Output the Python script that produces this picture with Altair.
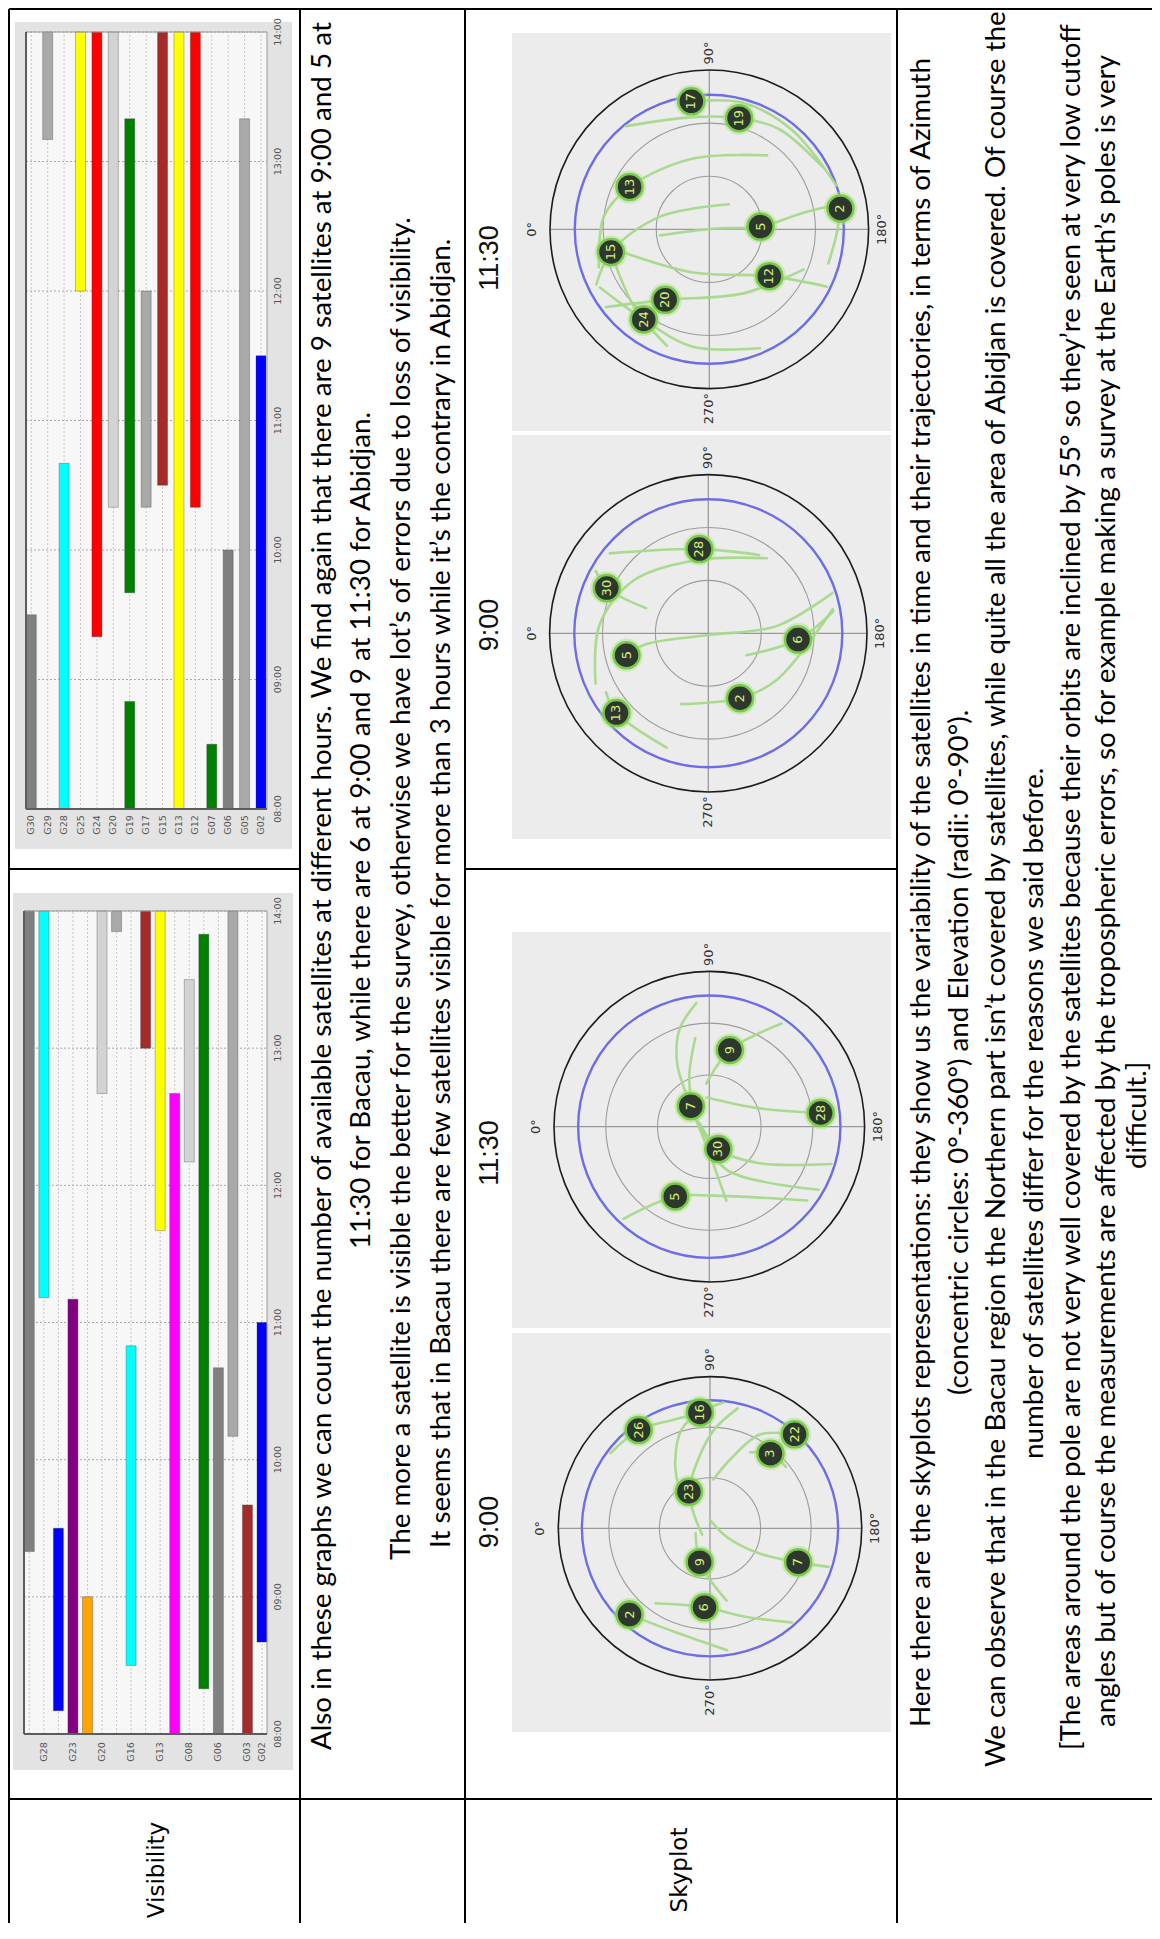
import math
import altair as alt
import pandas as pd

# =============================== DATA ===============================
# --- Visibility (time windows, decimal hours) : Bacau
bacau_sats = ["G30", "G28", "G26", "G23", "G22", "G20", "G17", "G16", "G15",
              "G13", "G09", "G08", "G07", "G06", "G05", "G03", "G02"]
bacau_tick_labels = ["G28", "G23", "G20", "G16", "G13", "G08", "G06", "G03", "G02"]
bacau_bar_sat = ["G30", "G28", "G26", "G23", "G22", "G20", "G17", "G16", "G15",
                 "G13", "G09", "G08", "G07", "G06", "G05", "G03", "G02"]
bacau_bar_start = [9.33, 11.18, 8.17, 8.0, 8.0, 12.67, 13.85, 8.5, 13.0,
                   11.67, 8.0, 12.17, 8.33, 8.0, 10.17, 8.0, 8.67]
bacau_bar_end = [14.0, 14.0, 9.5, 11.17, 9.0, 14.0, 14.0, 10.83, 14.0,
                 14.0, 12.67, 13.5, 13.83, 10.67, 14.0, 9.67, 11.0]

# --- Visibility : Abidjan
abidjan_sats = ["G30", "G29", "G28", "G25", "G24", "G20", "G19", "G17", "G15",
                "G13", "G12", "G07", "G06", "G05", "G02"]
abidjan_tick_labels = abidjan_sats
abidjan_bar_sat = ["G30", "G29", "G28", "G25", "G24", "G20", "G19", "G19", "G17",
                   "G15", "G13", "G12", "G07", "G06", "G05", "G02"]
abidjan_bar_start = [8.0, 13.17, 8.0, 12.0, 9.33, 10.33, 9.67, 8.0, 10.33,
                     10.5, 8.0, 10.33, 8.0, 8.0, 8.0, 8.0]
abidjan_bar_end = [9.5, 14.0, 10.67, 14.0, 14.0, 14.0, 13.33, 8.83, 12.0,
                   14.0, 14.0, 14.0, 8.5, 10.0, 13.33, 11.5]

hour_values = [8, 9, 10, 11, 12, 13, 14]
hour_labels = ["08:00", "09:00", "10:00", "11:00", "12:00", "13:00", "14:00"]

# --- Skyplots : satellites (PRN, azimuth deg, elevation deg)
bacau_0900_prn = [26, 16, 22, 3, 23, 9, 7, 6, 2]
bacau_0900_az = [54, 85, 132, 129, 60, 287, 201, 274, 313]
bacau_0900_el = [18, 21, 15, 33, 65, 69, 34, 43, 20]
bacau_0900_tracks = [
    [(37, 16), (54, 18), (71, 22), (82, 22)],
    [(96, 15), (85, 21), (74, 29), (62, 46), (49, 63)],
    [(103, 17), (92, 32), (78, 51), (60, 65), (42, 77), (321, 84)],
    [(132, 15), (118, 27), (106, 48), (94, 61)],
    [(118, 39), (129, 33), (141, 32)],
    [(90, 85), (207, 79), (207, 57), (201, 34), (198, 16)],
    [(342, 81), (287, 69), (267, 57), (257, 46)],
    [(306, 35), (274, 43), (249, 34), (229, 16)],
    [(313, 20), (288, 25), (262, 17)],
]

bacau_1130_prn = [9, 7, 28, 30, 5]
bacau_1130_az = [105, 48, 173, 248, 296]
bacau_1130_el = [44, 74, 25, 76, 45]
bacau_1130_tracks = [
    [(125, 17), (105, 44), (86, 65)],
    [(84, 18), (73, 31), (63, 49), (48, 74), (272, 76), (257, 46)],
    [(81, 38), (68, 59), (46, 77), (293, 84), (248, 63), (210, 17)],
    [(85, 73), (160, 59), (173, 25)],
    [(20, 84), (248, 76), (216, 54), (197, 16)],
    [(313, 17), (296, 45), (267, 50), (217, 19)],
]

abidjan_0900_prn = [28, 30, 5, 13, 2, 6]
abidjan_0900_az = [84, 24, 345, 319, 244, 184]
abidjan_0900_el = [42, 27, 42, 21, 49, 39]
abidjan_0900_tracks = [
    [(39, 18), (84, 42), (123, 37)],
    [(336, 20), (4, 28), (35, 38), (83, 48), (128, 36)],
    [(29, 17), (24, 27), (22, 52)],
    [(345, 42), (350, 54), (270, 89), (174, 51), (162, 16)],
    [(330, 23), (319, 21), (290, 21)],
    [(291, 47), (244, 49), (214, 43), (169, 18)],
    [(210, 65), (184, 39), (170, 18)],
]

abidjan_1130_prn = [17, 19, 13, 2, 5, 15, 12, 20, 24]
abidjan_1130_az = [82, 105, 28, 171, 177, 347, 218, 302, 306]
abidjan_1130_el = [17, 25, 39, 15, 61, 33, 47, 43, 27]
abidjan_1130_tracks = [
    [(51, 15), (82, 26), (105, 25), (125, 21), (151, 17)],
    [(82, 17), (105, 16), (130, 17), (161, 14)],
    [(128, 37), (77, 49), (28, 39), (7, 30), (341, 24)],
    [(128, 72), (14, 61), (347, 33), (334, 19)],
    [(353, 62), (170, 88), (177, 61), (170, 36), (169, 15)],
    [(171, 15), (182, 18), (196, 20)],
    [(344, 41), (290, 64), (218, 47), (206, 16)],
    [(323, 17), (302, 43), (242, 49), (203, 32)],
    [(332, 20), (306, 27), (278, 23), (247, 17)],
    [(347, 33), (314, 29), (290, 20)],
]

azimuth_labels = ["0°", "90°", "180°", "270°"]
azimuth_values = [0, 90, 180, 270]
elevation_rings = [30, 60]
cutoff_elevation = 14

# --- Texts
row_labels = ["Visibility", "Skyplot"]
row2_lines = [
    "Also in these graphs we can count the number of available satellites at different hours. We find again that there are 9 satellites at 9:00 and 5 at",
    "11:30 for Bacau, while there are 6 at 9:00 and 9 at 11:30 for Abidjan.",
    "The more a satellite is visible the better for the survey, otherwise we have lot’s of errors due to loss of visibility.",
    "It seems that in Bacau there are few satellites visible for more than 3 hours while it’s the contrary in Abidjan.",
]
row4_lines = [
    "Here there are the skyplots representations: they show us the variability of the satellites in time and their trajectories, in terms of Azimuth",
    "(concentric circles: 0°-360°) and Elevation (radii: 0°-90°).",
    "We can observe that in the Bacau region the Northern part isn’t covered by satellites, while quite all the area of Abidjan is covered. Of course the",
    "number of satellites differ for the reasons we said before.",
    "[The areas around the pole are not very well covered by the satellites because their orbits are inclined by 55° so they’re seen at very low cutoff",
    "angles but of course the measurements are affected by the tropospheric errors, so for example making a survey at the Earth’s poles is very",
    "difficult.]",
]

# =========================== STYLE / LAYOUT ===========================
OFF = 8                     # page margin
W, H = 1144, 1915
BODY_FONT = "Lato"
BODY_SIZE = 27.8

SAT_COLORS = {
    "G02": "#0000ff", "G03": "#a52a2a", "G05": "#a9a9a9", "G06": "#808080",
    "G07": "#008000", "G08": "#d3d3d3", "G09": "#ff00ff", "G12": "#ff0000",
    "G13": "#ffff00", "G15": "#a52a2a", "G16": "#00ffff", "G17": "#a9a9a9",
    "G19": "#008000", "G20": "#d3d3d3", "G22": "#ffa500", "G23": "#800080",
    "G24": "#ff0000", "G25": "#ffff00", "G26": "#0000ff", "G28": "#00ffff",
    "G29": "#a9a9a9", "G30": "#808080",
}
BAR_W = 10

BACAU_G = dict(c_first=29.3, c_last=262.0, y8=1734, y14=911,
               panel=(13, 893, 293, 1770), plot=(24, 911, 267, 1734),
               lab_y=1752, time_x=278)
ABIDJAN_G = dict(c_first=31.3, c_last=261.0, y8=809, y14=32,
                 panel=(15, 22, 292, 849), plot=(26, 32, 267, 809),
                 lab_y=825, time_x=278)

SKY = [
    dict(cx=710.0, cy=1528.3, R=151.7, box=(512, 1333, 891, 1732), title="9:00", ty=1522,
         prn=bacau_0900_prn, az=bacau_0900_az, el=bacau_0900_el, tracks=bacau_0900_tracks),
    dict(cx=709.3, cy=1126.7, R=155.3, box=(512, 932, 891, 1328), title="11:30", ty=1153,
         prn=bacau_1130_prn, az=bacau_1130_az, el=bacau_1130_el, tracks=bacau_1130_tracks),
    dict(cx=708.3, cy=633.3, R=158.7, box=(512, 435, 891, 839), title="9:00", ty=625,
         prn=abidjan_0900_prn, az=abidjan_0900_az, el=abidjan_0900_el, tracks=abidjan_0900_tracks),
    dict(cx=709.3, cy=229.3, R=159.3, box=(512, 33, 891, 431), title="11:30", ty=258,
         prn=abidjan_1130_prn, az=abidjan_1130_az, el=abidjan_1130_el, tracks=abidjan_1130_tracks),
]
SKY_TITLE_X = 490
AZ_LABEL_GAP = [18, 17, 13, 20]   # px outside the horizon circle

ROW2_X = [323, 362, 402, 442]
ROW2_START = [1750, 1249, 1560, 1548]
ROW4_X = [922, 960, 997, 1035, 1072, 1107, 1138]
ROW4_START = [1727, 1395, 1767, 1459, 1750, 1727, 1169]
HEADER_POS = [(157, 1870), (680, 1870)]

TABLE_LINES = [
    (9, 9, 1160, 9), (9, 9, 9, 1939),
    (300, 9, 300, 1939), (465, 9, 465, 1939), (897, 9, 897, 1939),
    (9, 1799, 1160, 1799),
    (9, 869, 300, 869), (465, 869, 897, 869),
]


# ============================== HELPERS ==============================
def rules_layer(rows, color, width, dash=None):
    df = pd.DataFrame(rows, columns=["x", "y", "x2", "y2"]) - OFF
    kw = dict(color=color, strokeWidth=width)
    if dash:
        kw["strokeDash"] = dash
    return alt.Chart(df).mark_rule(**kw).encode(
        x=alt.X("x:Q", scale=None, axis=None), y=alt.Y("y:Q", scale=None, axis=None),
        x2="x2:Q", y2="y2:Q")


def rects_layer(rows, fill):
    df = pd.DataFrame(rows, columns=["x", "y", "x2", "y2"]) - OFF
    return alt.Chart(df).mark_rect(color=fill).encode(
        x=alt.X("x:Q", scale=None, axis=None), y=alt.Y("y:Q", scale=None, axis=None),
        x2="x2:Q", y2="y2:Q")


def text_layer(texts, xs, ys, align, font, size, color="black"):
    df = pd.DataFrame({"t": texts, "x": [v - OFF for v in xs], "y": [v - OFF for v in ys]})
    return alt.Chart(df).mark_text(angle=270, align=align, baseline="middle",
                                   font=font, fontSize=size, color=color).encode(
        x=alt.X("x:Q", scale=None, axis=None), y=alt.Y("y:Q", scale=None, axis=None),
        text="t:N")


def gantt(sats, tick_labels, bar_sat, bar_start, bar_end, g):
    n = len(sats)
    step = (g["c_last"] - g["c_first"]) / (n - 1)
    half = BAR_W / 2 / step
    xs = alt.Scale(domain=[0, n - 1], range=[g["c_first"] - OFF, g["c_last"] - OFF],
                   nice=False, zero=False)
    ys = alt.Scale(domain=[8, 14], range=[g["y8"] - OFF, g["y14"] - OFF],
                   nice=False, zero=False)
    l, t, r, b = g["plot"]
    layers = [rects_layer([g["panel"]], "#e3e3e3"), rects_layer([g["plot"]], "#f7f7f7")]

    cats = pd.DataFrame({"i": list(range(n)), "t0": 8, "t1": 14})
    layers.append(alt.Chart(cats).mark_rule(color="#c6c6c6", strokeWidth=1, strokeDash=[2, 2]).encode(
        x=alt.X("i:Q", scale=xs, axis=None), y=alt.Y("t0:Q", scale=ys, axis=None), y2="t1:Q"))

    hrs = pd.DataFrame({"h": hour_values, "label": hour_labels})
    layers.append(alt.Chart(hrs).mark_rule(color="#ababab", strokeWidth=1, strokeDash=[2, 2]).encode(
        y=alt.Y("h:Q", scale=ys, axis=None), x=alt.value(l - OFF), x2=alt.value(r - OFF)))

    bars = pd.DataFrame({"sat": bar_sat, "start": bar_start, "end": bar_end})
    bars["i"] = [sats.index(s) for s in bar_sat]
    layers.append(alt.Chart(bars).transform_calculate(
        lo=f"datum.i - {half}", hi=f"datum.i + {half}"
    ).mark_rect(stroke="#333333", strokeWidth=0.7, strokeOpacity=0.45).encode(
        x=alt.X("lo:Q", scale=xs, axis=None), x2="hi:Q",
        y=alt.Y("start:Q", scale=ys, axis=None), y2="end:Q",
        color=alt.Color("sat:N", scale=alt.Scale(domain=list(SAT_COLORS.keys()),
                                                 range=list(SAT_COLORS.values())), legend=None)))

    layers.append(rules_layer([(l, t, r, t), (r, t, r, b)], "#9a9a9a", 1))
    layers.append(rules_layer([(l, t, l, b), (l, b, r, b)], "#5c5c5c", 2))

    lab = pd.DataFrame({"sat": tick_labels})
    lab["i"] = [sats.index(s) for s in tick_labels]
    layers.append(alt.Chart(lab).mark_text(angle=270, fontSize=9.5, font="DejaVu Sans",
                                           color="#555555", baseline="middle").encode(
        x=alt.X("i:Q", scale=xs, axis=None), y=alt.value(g["lab_y"] - OFF), text="sat:N"))
    layers.append(alt.Chart(hrs).mark_text(angle=270, fontSize=9.5, font="DejaVu Sans",
                                           color="#555555", baseline="middle").encode(
        y=alt.Y("h:Q", scale=ys, axis=None), x=alt.value(g["time_x"] - OFF), text="label:N"))
    return layers


def skyplot(s):
    cx, cy, R = s["cx"], s["cy"], s["R"]
    sx = alt.Scale(domain=[-90, 90], range=[cx - R - OFF, cx + R - OFF], nice=False, zero=False)
    sy = alt.Scale(domain=[-90, 90], range=[cy + R - OFF, cy - R - OFF], nice=False, zero=False)
    X = alt.X("X:Q", scale=sx, axis=None)
    Y = alt.Y("Y:Q", scale=sy, axis=None)
    calc = dict(X="-(90 - datum.el) * cos(datum.az * PI / 180)",
                Y="(90 - datum.el) * sin(datum.az * PI / 180)")

    layers = [rects_layer([s["box"]], "#ececec")]
    layers.append(text_layer([s["title"]], [SKY_TITLE_X], [s["ty"]], "center",
                             "Liberation Sans", 27, "#111111"))

    cross = pd.DataFrame({"X": [-90, 0], "X2": [90, 0], "Y": [0, -90], "Y2": [0, 90]})
    layers.append(alt.Chart(cross).mark_rule(color="#9a9a9a", strokeWidth=1.3).encode(
        x=X, x2="X2:Q", y=Y, y2="Y2:Q"))

    centre = pd.DataFrame({"az": [0.0], "el": [90.0]})
    rings = [(e, "#9c9c9c", 1.1) for e in elevation_rings] + \
            [(cutoff_elevation, "#6d6de8", 2.4), (0, "#1c1c1c", 1.6)]
    for e, col, sw in rings:
        rpx = R * (90 - e) / 90
        layers.append(alt.Chart(centre).transform_calculate(**calc).mark_point(
            shape="circle", filled=False, size=(2 * rpx) ** 2, color=col,
            strokeWidth=sw, opacity=1).encode(x=X, y=Y))

    lab = pd.DataFrame({"t": azimuth_labels, "az": azimuth_values,
                        "zd": [90 + gap * 90 / R for gap in AZ_LABEL_GAP]})
    layers.append(alt.Chart(lab).transform_calculate(
        X="-datum.zd * cos(datum.az * PI / 180)", Y="datum.zd * sin(datum.az * PI / 180)"
    ).mark_text(angle=270, font="DejaVu Sans", fontSize=13, color="#333333",
                baseline="middle").encode(x=X, y=Y, text="t:N"))

    rows = []
    for k, tr in enumerate(s["tracks"]):
        for q, (a, e) in enumerate(tr):
            rows.append({"track": k, "seq": q, "az": a, "el": e})
    tdf = pd.DataFrame(rows)
    layers.append(alt.Chart(tdf).transform_calculate(**calc).mark_line(
        interpolate="catmull-rom", color="#a6d98a", strokeWidth=2.6, opacity=0.95,
        strokeCap="round").encode(x=X, y=Y, detail="track:N", order="seq:Q"))

    sdf = pd.DataFrame({"prn": [str(p) for p in s["prn"]], "az": s["az"], "el": s["el"]})
    layers.append(alt.Chart(sdf).transform_calculate(**calc).mark_point(
        shape="circle", filled=True, size=33 ** 2, color="#a8e27c", opacity=0.45).encode(x=X, y=Y))
    layers.append(alt.Chart(sdf).transform_calculate(**calc).mark_point(
        shape="circle", filled=True, size=26 ** 2, fill="#2d372d", stroke="#79c94a",
        strokeWidth=2.5, opacity=1).encode(x=X, y=Y))
    layers.append(alt.Chart(sdf).transform_calculate(**calc).mark_text(
        angle=270, font="DejaVu Sans", fontSize=13, color="#d4f27a",
        baseline="middle").encode(x=X, y=Y, text="prn:N"))
    return layers


# ============================== BUILD ==============================
layers = []
layers += gantt(bacau_sats, bacau_tick_labels, bacau_bar_sat, bacau_bar_start, bacau_bar_end, BACAU_G)
layers += gantt(abidjan_sats, abidjan_tick_labels, abidjan_bar_sat, abidjan_bar_start, abidjan_bar_end, ABIDJAN_G)
for s in SKY:
    layers += skyplot(s)

layers.append(rules_layer(TABLE_LINES, "black", 2))
layers.append(text_layer(row_labels, [p[0] for p in HEADER_POS], [p[1] for p in HEADER_POS],
                         "center", "DejaVu Sans", 23))
layers.append(text_layer(row2_lines, ROW2_X, ROW2_START, "left", BODY_FONT, BODY_SIZE))
layers.append(text_layer(row4_lines, ROW4_X, ROW4_START, "left", BODY_FONT, BODY_SIZE))

chart = alt.layer(*layers).resolve_scale(
    x="independent", y="independent", color="independent"
).properties(
    width=W, height=H, padding=0, autosize=alt.AutoSizeParams(type="none")
).configure(background="white").configure_view(strokeWidth=0)

chart.save("out.html", embed_options={"renderer": "svg", "actions": False})
